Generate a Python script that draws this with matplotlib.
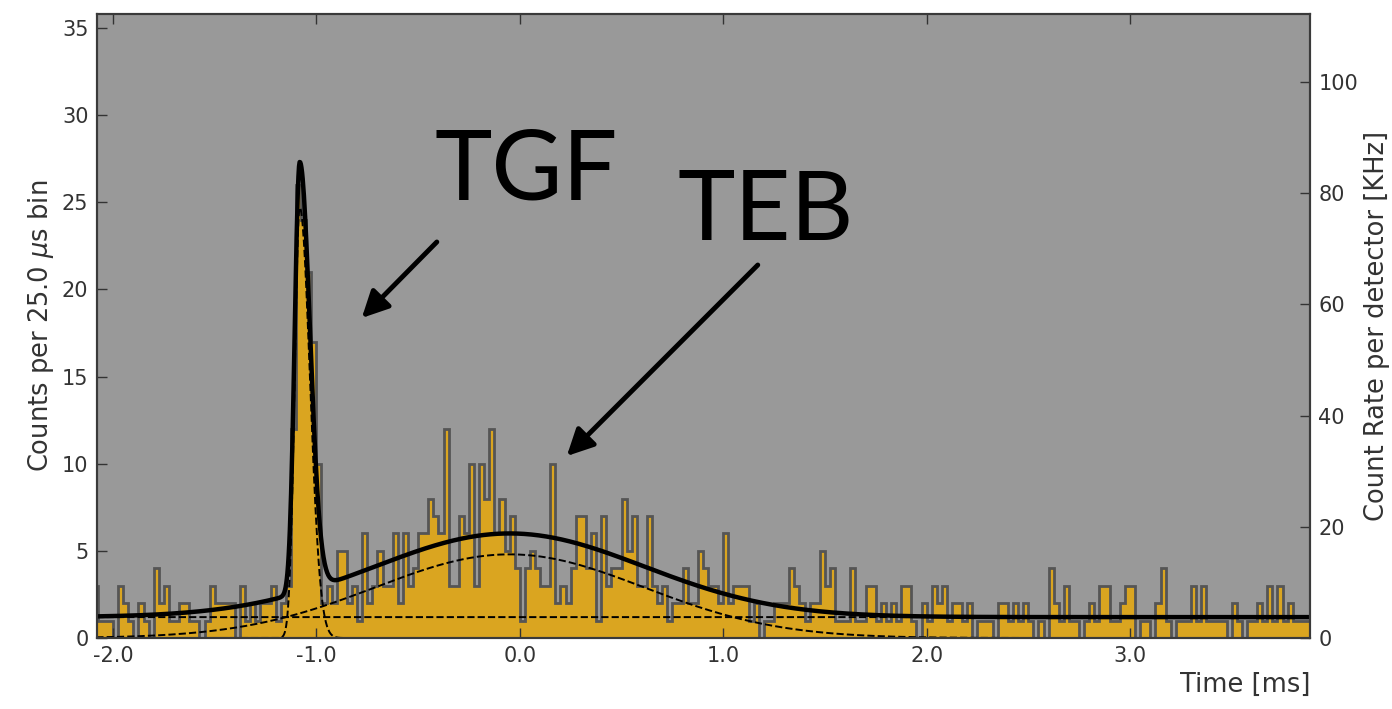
import numpy as np
import matplotlib
matplotlib.use("Agg")
import matplotlib.pyplot as plt

# light curve: counts in 25 us bins starting at -2.1 ms
bin_start = -2.1
bin_width = 0.025
counts = [
    3, 1, 1, 1, 0, 3, 2, 1, 0, 2, 1, 0, 4, 2, 3, 1, 1, 2, 2, 1,
    1, 0, 1, 3, 2, 2, 2, 2, 0, 3, 1, 2, 1, 2, 2, 3, 1, 2, 3, 12,
    26, 24, 21, 17, 10, 2, 3, 2, 5, 5, 2, 3, 1, 6, 2, 3, 5, 3, 3, 6,
    2, 6, 3, 4, 6, 6, 8, 7, 6, 12, 3, 3, 7, 6, 10, 3, 10, 8, 12, 6,
    8, 5, 7, 4, 1, 4, 5, 4, 3, 3, 10, 2, 3, 2, 4, 7, 7, 4, 6, 1,
    7, 3, 4, 4, 8, 5, 7, 3, 3, 7, 3, 2, 3, 1, 2, 2, 4, 2, 2, 5,
    4, 3, 3, 2, 6, 2, 3, 3, 3, 1, 2, 0, 1, 1, 2, 2, 2, 4, 3, 2,
    1, 2, 2, 5, 3, 4, 1, 1, 1, 4, 1, 1, 3, 3, 1, 2, 1, 2, 1, 3,
    3, 1, 0, 2, 1, 3, 2, 3, 1, 2, 2, 1, 2, 0, 1, 1, 1, 0, 2, 2,
    1, 2, 1, 2, 1, 0, 1, 0, 4, 2, 1, 3, 1, 1, 0, 1, 2, 1, 3, 3,
    1, 1, 2, 3, 3, 0, 1, 1, 0, 2, 4, 1, 0, 1, 1, 1, 3, 1, 3, 1,
    1, 1, 1, 0, 2, 1, 0, 1, 1, 2, 1, 3, 1, 3, 1, 2, 1, 1, 1, 1,
]

# fitted model: flat background + TGF pulse + TEB gaussian
background = 1.2
tgf_amp, tgf_t0, tgf_rise, tgf_fall = 24.7, -1.082, 0.025, 0.05
teb_amp, teb_t0, teb_sigma = 4.8, -0.05, 0.66

rate_per_count = 3.135  # KHz per detector for one count per bin
y_top = 35.8

edges = bin_start + bin_width * np.arange(len(counts) + 1)
t = np.linspace(edges[0], edges[-1], 2000)

tgf = tgf_amp * np.where(t < tgf_t0,
                         np.exp(-0.5 * ((t - tgf_t0) / tgf_rise) ** 2),
                         np.exp(-0.5 * ((t - tgf_t0) / tgf_fall) ** 2))
teb = teb_amp * np.exp(-0.5 * ((t - teb_t0) / teb_sigma) ** 2)
total = background + tgf + teb

fig = plt.figure(figsize=(13.92, 7.09), dpi=100)
ax = fig.add_axes([0.0695, 0.1001, 0.8716, 0.8802])
ax.set_facecolor("#999999")

ax.hist(edges[:-1], bins=edges, weights=counts, histtype="stepfilled",
        facecolor="#daa520", edgecolor="#555555", linewidth=2)

ax.plot(t, np.full_like(t, background), "k--", lw=1.4)
ax.plot(t, teb, "k--", lw=1.4)
ax.plot(t, tgf, "k--", lw=1.4)
ax.plot(t, total, "k-", lw=3.2)

ax.set_xlim(-2.08, 3.885)
ax.set_ylim(0, y_top)
ax.set_xticks([-2, -1, 0, 1, 2, 3])
ax.set_xticklabels(["-2.0", "-1.0", "0.0", "1.0", "2.0", "3.0"])
ax.set_yticks(range(0, 36, 5))

ax2 = ax.twinx()
ax2.set_ylim(0, y_top * rate_per_count)
ax2.set_yticks(range(0, 101, 20))

label_color = "#333333"
for a in (ax, ax2):
    a.tick_params(direction="in", length=7, width=1, labelsize=15,
                  colors=label_color, pad=6)
    for s in a.spines.values():
        s.set_color("#3a3a3a")
        s.set_linewidth(1.5)
ax.tick_params(top=True)

ax.set_ylabel(r"Counts per 25.0 $\mu$s bin", fontsize=18.5, color=label_color)
ax2.set_ylabel("Count Rate per detector [KHz]", fontsize=18.5, color=label_color)
ax.set_xlabel("Time [ms]", fontsize=18.5, color=label_color, loc="right")

# event labels
big = dict(fontsize=70, family="Lato", color="black")
ax.text(-0.418, 25.13, "TGF", **big)
ax.text(0.777, 22.83, "TEB", **big)
arrow = dict(arrowstyle="-|>", lw=3.5, color="black", mutation_scale=40,
             shrinkA=0, shrinkB=0)
ax.annotate("", xy=(-0.777, 18.36), xytext=(-0.408, 22.72), arrowprops=arrow)
ax.annotate("", xy=(0.231, 10.44), xytext=(1.170, 21.4), arrowprops=arrow)

fig.savefig("out.png", dpi=100)
